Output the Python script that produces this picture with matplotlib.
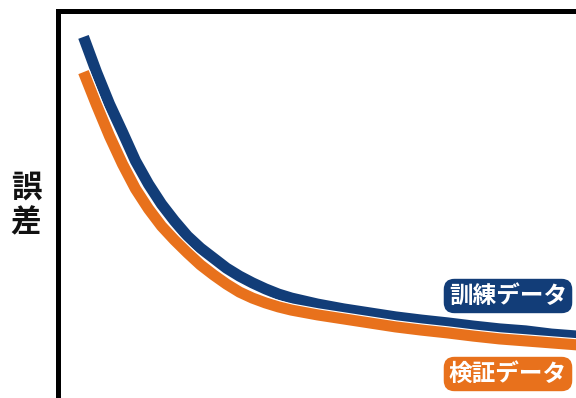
import matplotlib
matplotlib.use("Agg")
import matplotlib.pyplot as plt
import matplotlib.patheffects as pe

plt.rcParams['font.family'] = ['Noto Sans CJK JP', 'DejaVu Sans']

# Learning curves: error per epoch
epochs = [0, 0.5, 1, 1.5, 2, 2.5, 3, 3.5, 4, 4.5, 5, 5.5, 6, 6.5, 7, 7.5, 8,
          9, 10, 11, 12, 13, 14, 15, 16, 17, 18, 19]
train_err = [0.934, 0.846, 0.766, 0.696, 0.624, 0.566, 0.516, 0.474, 0.436,
             0.406, 0.381, 0.356, 0.336, 0.319, 0.304, 0.291, 0.281,
             0.266, 0.254, 0.244, 0.234, 0.226, 0.219, 0.211, 0.204,
             0.199, 0.191, 0.186]
valid_err = [0.846, 0.764, 0.686, 0.616, 0.554, 0.504, 0.461, 0.426, 0.394,
             0.364, 0.339, 0.316, 0.296, 0.281, 0.269, 0.259, 0.251,
             0.239, 0.229, 0.219, 0.209, 0.201, 0.194, 0.186, 0.179,
             0.174, 0.169, 0.164]

series_labels = ['訓練データ', '検証データ']
y_label = '誤差'

navy = '#123d78'
orange = '#e8711c'

fig = plt.figure(figsize=(5.76, 3.98), dpi=100)
ax = fig.add_axes([57.5 / 576, 1 - 410.5 / 398, 546 / 576, 400 / 398])
ax.set_xlim(-1, 20)
ax.set_ylim(0, 1)

ax.plot(epochs, train_err, color=navy, lw=8, solid_capstyle='butt',
        solid_joinstyle='round', zorder=2)
ax.plot(epochs, valid_err, color=orange, lw=8, solid_capstyle='butt',
        solid_joinstyle='round', zorder=3,
        path_effects=[pe.Stroke(linewidth=9.6, foreground='white'), pe.Normal()])

for side in ('right', 'bottom'):
    ax.spines[side].set_visible(False)
for side in ('left', 'top'):
    ax.spines[side].set_linewidth(3.6)
    ax.spines[side].set_color('black')
ax.set_xticks([])
ax.set_yticks([])

fig.text(26 / 576, 1 - 205 / 398, '誤\n差', ha='center', va='center',
         fontsize=22, fontweight='bold', linespacing=1.15, color='#111111')

fig.text(508 / 576, 1 - 296 / 398, series_labels[0], ha='center', va='center',
         fontsize=17, fontweight='bold', color='white',
         bbox=dict(boxstyle='round,pad=0.22,rounding_size=0.45', fc=navy, ec='none'))
fig.text(508 / 576, 1 - 374 / 398, series_labels[1], ha='center', va='center',
         fontsize=17, fontweight='bold', color='white',
         bbox=dict(boxstyle='round,pad=0.22,rounding_size=0.45', fc=orange, ec='none'))

fig.savefig('out.png', dpi=100, facecolor='white')
